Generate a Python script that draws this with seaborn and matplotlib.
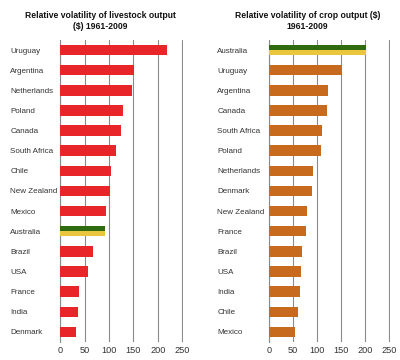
import matplotlib
matplotlib.use("Agg")
import matplotlib.pyplot as plt
import seaborn as sns
import pandas as pd
from matplotlib.ticker import FixedLocator

livestock_countries = ["Uruguay", "Argentina", "Netherlands", "Poland", "Canada", "South Africa",
                       "Chile", "New Zealand", "Mexico", "Australia", "Brazil", "USA", "France",
                       "India", "Denmark"]
livestock_values = [219, 151, 147, 129, 125, 115, 104, 101, 93, 91, 67, 57, 39, 36, 33]

crop_countries = ["Australia", "Uruguay", "Argentina", "Canada", "South Africa", "Poland",
                  "Netherlands", "Denmark", "New Zealand", "France", "Brazil", "USA", "India",
                  "Chile", "Mexico"]
crop_values = [203, 152, 124, 121, 111, 109, 91, 90, 80, 77, 69, 67, 65, 60, 55]

titles = ["Relative volatility of livestock output\n($) 1961-2009",
          "Relative volatility of crop output ($)\n1961-2009"]
x_ticks = [0, 50, 100, 150, 200, 250]

RED = "#E8262A"
ORANGE = "#C86A1E"
GREEN = "#2F6A0F"
YELLOW = "#E9C63D"

sns.set_style("white")
plt.rcParams["font.family"] = ["Liberation Sans", "DejaVu Sans"]

fig = plt.figure(figsize=(4.0, 3.6), dpi=100)
ax1 = fig.add_axes([0.151, 0.05, 0.307, 0.839])
ax2 = fig.add_axes([0.672, 0.05, 0.303, 0.839])

panels = [(ax1, livestock_countries, livestock_values, RED, 36, 0.25),
          (ax2, crop_countries, crop_values, ORANGE, 37, 0.768)]

for i, (ax, cats, vals, col, pad, tx) in enumerate(panels):
    df = pd.DataFrame({"country": cats, "value": vals})
    pal = {c: (GREEN if c == "Australia" else col) for c in cats}
    sns.barplot(data=df, y="country", x="value", hue="country", palette=pal,
                order=cats, orient="h", width=0.52, legend=False, ax=ax, zorder=3,
                saturation=1, linewidth=0)
    ai = cats.index("Australia")
    ax.barh(ai + 0.13, vals[ai], height=0.26, color=YELLOW, zorder=4, linewidth=0)
    ax.set_xlim(0, 252)
    ax.set_xticks(x_ticks)
    ax.set_ylim(len(cats) - 0.5, -0.5)
    ax.set_xlabel("")
    ax.set_ylabel("")
    ax.grid(axis="x", color="#8a8a8a", lw=0.8, zorder=0)
    ax.grid(axis="y", visible=False)
    for s in ["top", "right", "bottom"]:
        ax.spines[s].set_visible(False)
    ax.spines["left"].set_color("#8a8a8a")
    ax.spines["left"].set_linewidth(0.8)
    ax.tick_params(axis="x", length=0, labelsize=6.6, labelcolor="#333333", pad=3)
    ax.tick_params(axis="y", which="major", length=0, labelsize=5.8, labelcolor="#333333", pad=pad)
    for lab in ax.get_yticklabels():
        lab.set_horizontalalignment("left")
    ax.yaxis.set_minor_locator(FixedLocator([k + 0.5 for k in range(-1, len(cats))]))
    ax.tick_params(axis="y", which="minor", length=3, width=0.8, color="#8a8a8a", direction="out")
    fig.text(tx, 0.97, titles[i], ha="center", va="top", fontsize=6.2,
             fontweight="bold", color="#111111", linespacing=1.3)

fig.savefig("out.png", dpi=100)
